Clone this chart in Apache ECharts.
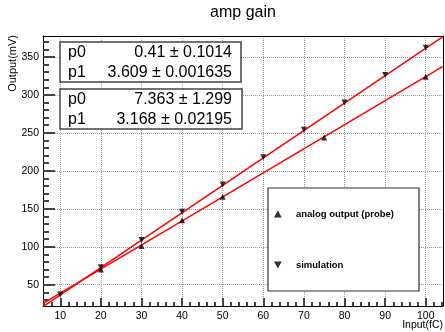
<!DOCTYPE html>
<html>
<head>
<meta charset="utf-8">
<script src="https://cdn.jsdelivr.net/npm/echarts@6/dist/echarts.min.js"></script>
<style>
  html, body { margin: 0; padding: 0; background: #fff; }
  #chart { width: 445px; height: 332px; }
</style>
</head>
<body>
<div id="chart"></div>
<script>
// data
const probeX = [20, 30, 40, 50, 75, 100];
const probeY = [70, 101, 135, 166, 244, 324];
const simX = [10, 20, 30, 40, 50, 60, 70, 80, 90, 100];
const simY = [37, 73, 109, 146, 182, 218, 254, 290, 326, 362];

// fit results shown in the stat boxes
const simFit = { p0: 0.41, p1: 3.609, e0: "0.1014", e1: "0.001635" };
const probeFit = { p0: 7.363, p1: 3.168, e0: "1.299", e1: "0.02195" };

// axes
const xMin = 5.75, xMax = 104.25;
const yMin = 22, yMax = 377.5;
const xMajor = [10, 20, 30, 40, 50, 60, 70, 80, 90, 100];
const xMinor = [6, 8, 12, 14, 16, 18, 22, 24, 26, 28, 32, 34, 36, 38, 42, 44, 46, 48,
  52, 54, 56, 58, 62, 64, 66, 68, 72, 74, 76, 78, 82, 84, 86, 88, 92, 94, 96, 98, 102, 104];
const yMajor = [50, 100, 150, 200, 250, 300, 350];
const yMinor = [30, 40, 60, 70, 80, 90, 110, 120, 130, 140, 160, 170, 180, 190, 210, 220,
  230, 240, 260, 270, 280, 290, 310, 320, 330, 340, 360, 370];

const FONT = "Liberation Sans";
const UP = "path://M5,0L10,9L0,9Z";
const DOWN = "path://M0,0L10,0L5,9Z";
const TICK = { color: "#444", width: 2 };

const fitLine = (f) => [xMin, xMax].map((x) => [x, f.p0 + f.p1 * x]);
const zip = (xs, ys) => xs.map((x, i) => [x, ys[i]]);

function statBox(y, w, fit) {
  const txt = (x, yy, text, align) => ({
    type: "text", x, y: yy, z: 4,
    style: { text, fontFamily: FONT, fontSize: 16, fill: "#000", align, verticalAlign: "middle" }
  });
  return [
    { type: "rect", shape: { x: 60, y, width: w, height: 40 }, z: 3,
      style: { fill: "#fff", stroke: "#444", lineWidth: 1.5 } },
    txt(68, y + 10.5, "p0", "left"),
    txt(232, y + 10.5, fit.p0 + " \u00b1 " + fit.e0, "right"),
    txt(68, y + 31, "p1", "left"),
    txt(232, y + 31, fit.p1 + " \u00b1 " + fit.e1, "right")
  ];
}

const chart = echarts.init(document.getElementById("chart"));

const gridLine = () => ({ show: true, lineStyle: { color: "#999", type: "dotted", width: 1 } });

// extra axis that only draws ticks (minor ticks) or only a line (frame)
const plainAxis = (min, max, pos, ticks, len, line) => ({
  type: "value", min, max, position: pos,
  axisLine: { show: !!line, lineStyle: { color: "#000", width: 1 } },
  axisTick: ticks
    ? { show: true, inside: true, length: len, customValues: ticks, lineStyle: { ...TICK } }
    : { show: false },
  axisLabel: { show: false },
  splitLine: { show: false }
});

chart.setOption({
  animation: false,
  textStyle: { fontFamily: FONT },
  title: {
    text: "amp gain", left: 238, top: 0, textAlign: "center",
    textStyle: { fontFamily: FONT, fontSize: 16, fontWeight: "normal", color: "#000" }
  },
  grid: { left: 43, right: 2, top: 36, bottom: 26 },
  xAxis: [
    {
      type: "value", min: xMin, max: xMax, splitNumber: 10,
      axisLine: { show: true, lineStyle: { color: "#000", width: 1 } },
      axisTick: { show: true, inside: true, length: 8, customValues: xMajor, lineStyle: { ...TICK } },
      axisLabel: { customValues: xMajor, fontSize: 10.5, color: "#000", margin: 5 },
      splitLine: gridLine()
    },
    plainAxis(xMin, xMax, "bottom", xMinor, 4, false),
    plainAxis(xMin, xMax, "top", null, 0, true)
  ],
  yAxis: [
    {
      type: "value", min: yMin, max: yMax, splitNumber: 7,
      axisLine: { show: true, lineStyle: { color: "#000", width: 1 } },
      axisTick: { show: true, inside: true, length: 12, customValues: yMajor, lineStyle: { ...TICK } },
      axisLabel: { customValues: yMajor, fontSize: 10.5, color: "#000", margin: 4 },
      splitLine: gridLine()
    },
    plainAxis(yMin, yMax, "left", yMinor, 6, false),
    plainAxis(yMin, yMax, "right", null, 0, true)
  ],
  legend: {
    orient: "vertical", left: 274, top: 208, padding: 0,
    itemWidth: 26, itemHeight: 7, itemGap: 39,
    data: [
      { name: "analog output (probe)", icon: UP },
      { name: "simulation", icon: DOWN }
    ],
    textStyle: { fontFamily: FONT, fontSize: 9.5, fontWeight: "bold", color: "#000", lineHeight: 12 }
  },
  graphic: [
    { type: "text", x: 13, y: 35, rotation: Math.PI / 2, z: 4,
      style: { text: "Output(mV)", fontFamily: FONT, fontSize: 11, fill: "#000", align: "right", verticalAlign: "middle" } },
    { type: "text", x: 443, y: 325, z: 4,
      style: { text: "Input(fC)", fontFamily: FONT, fontSize: 10.5, fill: "#000", align: "right", verticalAlign: "middle" } },
    ...statBox(42, 181, simFit),
    ...statBox(89, 182, probeFit),
    { type: "rect", shape: { x: 268, y: 188, width: 151, height: 103 }, z: 3,
      style: { fill: "#fff", stroke: "#333", lineWidth: 1.2 } }
  ],
  series: [
    {
      name: "probe fit", type: "line", data: fitLine(probeFit), showSymbol: false,
      lineStyle: { color: "#ff0000", width: 1.5 }, silent: true, z: 2
    },
    {
      name: "simulation fit", type: "line", data: fitLine(simFit), showSymbol: false,
      lineStyle: { color: "#ff0000", width: 1.5 }, silent: true, z: 2
    },
    {
      name: "analog output (probe)", type: "scatter", data: zip(probeX, probeY),
      symbol: UP, symbolSize: 6, itemStyle: { color: "#000" }, z: 3
    },
    {
      name: "simulation", type: "scatter", data: zip(simX, simY),
      symbol: DOWN, symbolSize: 6, itemStyle: { color: "#000" }, z: 3
    }
  ]
});
</script>
</body>
</html>
